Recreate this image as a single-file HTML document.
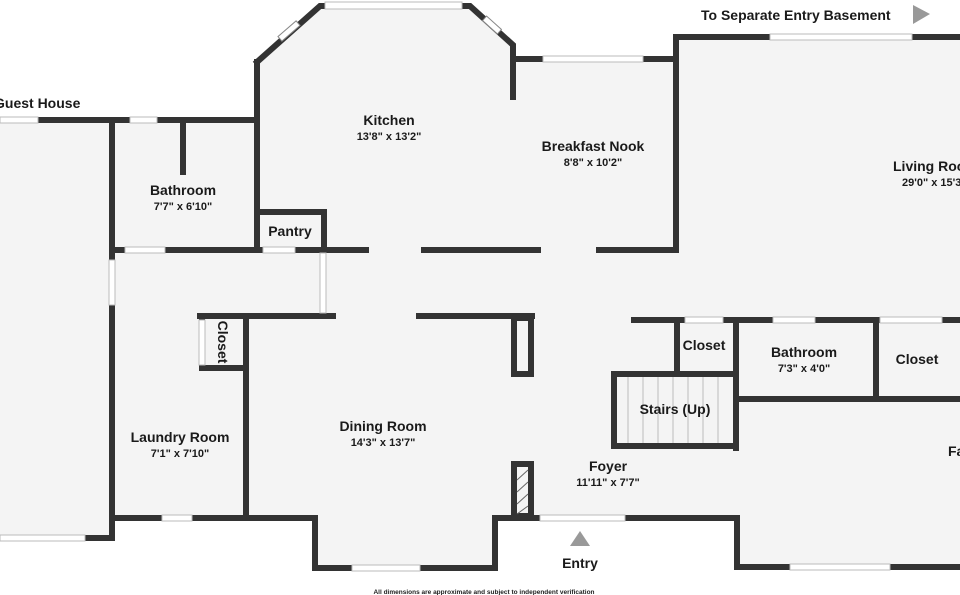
<!DOCTYPE html>
<html><head><meta charset="utf-8"><style>
html,body{margin:0;padding:0;background:#fff;}
svg{display:block;font-family:"Liberation Sans",sans-serif;}
.n{font-weight:bold;font-size:14px;fill:#1a1a1a;}
.d{font-size:11px;fill:#1a1a1a;font-weight:bold;}
</style></head><body>
<svg width="960" height="595" viewBox="0 0 960 595" xmlns="http://www.w3.org/2000/svg">
<polygon fill="#f4f4f4" points="0,120 257,120 257,60 320,5 470,5 513,45 513,59 676,59 676,37 960,37 960,567 737,567 737,518 495,518 495,568 315,568 315,518 112,518 112,540 0,540"/>
<g stroke="#333" stroke-width="6" fill="none" stroke-linecap="square">
<line x1="38" y1="120" x2="257" y2="120"/>
<line x1="112" y1="120" x2="112" y2="260"/>
<line x1="112" y1="305" x2="112" y2="538"/>
<line x1="85" y1="538" x2="112" y2="538"/>
<line x1="183" y1="120" x2="183" y2="172"/>
<line x1="257" y1="250" x2="257" y2="62"/>
<polyline points="257,62 320,6 470,6 513,45 513,97"/>
<line x1="513" y1="59" x2="673" y2="59"/>
<line x1="676" y1="250" x2="676" y2="37"/>
<line x1="676" y1="37" x2="960" y2="37"/>
<line x1="112" y1="250" x2="122" y2="250"/>
<line x1="168" y1="250" x2="260" y2="250"/>
<line x1="297" y1="250" x2="366" y2="250"/>
<line x1="424" y1="250" x2="538" y2="250"/>
<line x1="599" y1="250" x2="676" y2="250"/>
<polyline points="259,212 324,212 324,250"/>
<line x1="200" y1="316" x2="333" y2="316"/>
<line x1="202" y1="316" x2="202" y2="320"/>
<polyline points="202,365 202,368 246,368"/>
<line x1="246" y1="316" x2="246" y2="518"/>
<line x1="112" y1="518" x2="315" y2="518"/>
<polyline points="315,518 315,568 495,568 495,518 540,518"/>
<line x1="625" y1="518" x2="737" y2="518"/>
<polyline points="737,518 737,567 960,567"/>
<line x1="419" y1="316" x2="532" y2="316"/>
<rect x="514" y="318" width="17" height="56"/>
<rect x="514" y="464" width="17" height="52"/>
<line x1="634" y1="320" x2="960" y2="320"/>
<line x1="677" y1="320" x2="677" y2="372"/>
<line x1="736" y1="320" x2="736" y2="448"/>
<line x1="736" y1="399" x2="960" y2="399"/>
<line x1="876" y1="320" x2="876" y2="399"/>
<rect x="614" y="374" width="122" height="72"/>
</g>
<g fill="#fff" stroke="#bbb" stroke-width="1">
<rect x="0" y="117" width="38" height="6"/>
<rect x="130" y="117" width="27" height="6"/>
<rect x="0" y="535" width="85" height="6"/>
<rect x="109" y="260" width="6" height="45"/>
<rect x="325" y="2" width="137" height="7"/>
<rect x="543" y="56" width="100" height="6"/>
<rect x="770" y="34" width="142" height="6"/>
<rect x="125" y="247" width="40" height="6"/>
<rect x="263" y="247" width="32" height="6"/>
<rect x="320" y="253" width="6" height="60"/>
<rect x="199" y="320" width="6" height="45"/>
<rect x="162" y="515" width="30" height="6"/>
<rect x="352" y="565" width="68" height="6"/>
<rect x="540" y="515" width="85" height="6"/>
<rect x="790" y="564" width="100" height="6"/>
<rect x="685" y="317" width="38" height="6"/>
<rect x="773" y="317" width="42" height="6"/>
<rect x="880" y="317" width="62" height="6"/>
</g>
<g transform="translate(289,31) rotate(-41)"><rect x="-12" y="-3" width="24" height="6" fill="#fff" stroke="#888"/></g>
<g transform="translate(492,25) rotate(42)"><rect x="-10" y="-3" width="20" height="6" fill="#fff" stroke="#888"/></g>
<g stroke="#bbb" stroke-width="1">
<line x1="628" y1="377" x2="628" y2="443"/><line x1="643" y1="377" x2="643" y2="443"/><line x1="658" y1="377" x2="658" y2="443"/><line x1="673" y1="377" x2="673" y2="443"/><line x1="688" y1="377" x2="688" y2="443"/><line x1="703" y1="377" x2="703" y2="443"/><line x1="718" y1="377" x2="718" y2="443"/>
</g>
<g stroke="#666" stroke-width="1"><line x1="517" y1="480" x2="528" y2="470"/><line x1="517" y1="492" x2="528" y2="482"/><line x1="517" y1="504" x2="528" y2="494"/><line x1="517" y1="514" x2="528" y2="506"/></g>
<polygon points="570,546 580,531 590,546" fill="#999"/>
<polygon points="913,5 913,24 930,14" fill="#999"/>
<text class="n" x="-6" y="108">Guest House</text>
<text class="n" x="701" y="20">To Separate Entry Basement</text>
<text class="n" x="389" y="125" text-anchor="middle">Kitchen</text>
<text class="d" x="389" y="140" text-anchor="middle">13'8" x 13'2"</text>
<text class="n" x="593" y="151" text-anchor="middle">Breakfast Nook</text>
<text class="d" x="593" y="166" text-anchor="middle">8'8" x 10'2"</text>
<text class="n" x="893" y="171">Living Room</text>
<text class="d" x="902" y="186">29'0" x 15'3"</text>
<text class="n" x="183" y="195" text-anchor="middle">Bathroom</text>
<text class="d" x="183" y="210" text-anchor="middle">7'7" x 6'10"</text>
<text class="n" x="290" y="236" text-anchor="middle">Pantry</text>
<text class="n" transform="translate(218,342) rotate(90)" text-anchor="middle">Closet</text>
<text class="n" x="180" y="442" text-anchor="middle">Laundry Room</text>
<text class="d" x="180" y="457" text-anchor="middle">7'1" x 7'10"</text>
<text class="n" x="383" y="431" text-anchor="middle">Dining Room</text>
<text class="d" x="383" y="446" text-anchor="middle">14'3" x 13'7"</text>
<text class="n" x="704" y="350" text-anchor="middle">Closet</text>
<text class="n" x="804" y="357" text-anchor="middle">Bathroom</text>
<text class="d" x="804" y="372" text-anchor="middle">7'3" x 4'0"</text>
<text class="n" x="917" y="364" text-anchor="middle">Closet</text>
<text class="n" x="675" y="414" text-anchor="middle">Stairs (Up)</text>
<text class="n" x="608" y="471" text-anchor="middle">Foyer</text>
<text class="d" x="608" y="486" text-anchor="middle">11'11" x 7'7"</text>
<text class="n" x="948" y="456">Family</text>
<text class="n" x="580" y="568" text-anchor="middle">Entry</text>
<text x="484" y="594" text-anchor="middle" font-size="6.5" font-weight="bold" fill="#222">All dimensions are approximate and subject to independent verification</text>
</svg>
</body></html>
